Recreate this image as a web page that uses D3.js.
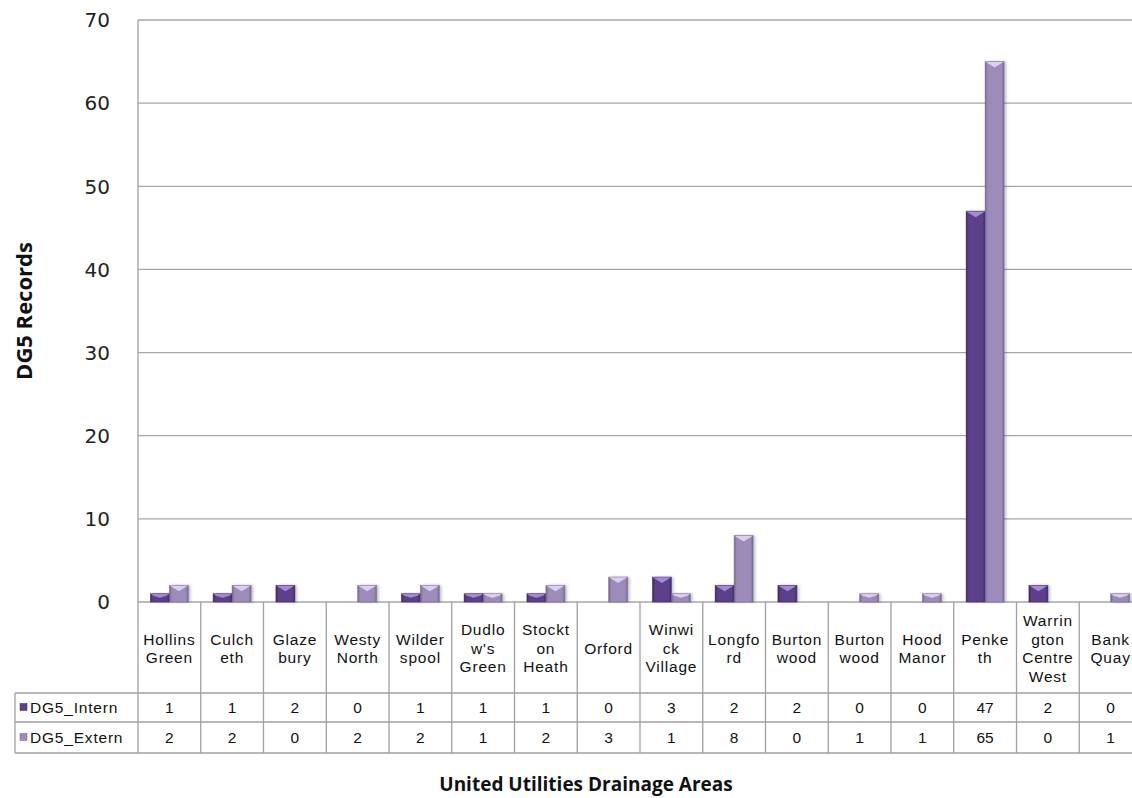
<!DOCTYPE html>
<html>
<head>
<meta charset="utf-8">
<script src="https://cdn.jsdelivr.net/npm/d3@7"></script>
<style>
  html, body { margin: 0; padding: 0; background: #fff; }
  svg { display: block; }
</style>
</head>
<body>
<svg id="chart" width="1132" height="798"></svg>
<script>
// Drainage areas (header rows of the data table, one array per wrapped line set)
const categories = [
  ["Hollins", "Green"], ["Culch", "eth"], ["Glaze", "bury"], ["Westy", "North"],
  ["Wilder", "spool"], ["Dudlo", "w's", "Green"], ["Stockt", "on", "Heath"], ["Orford"],
  ["Winwi", "ck", "Village"], ["Longfo", "rd"], ["Burton", "wood"], ["Burton", "wood"],
  ["Hood", "Manor"], ["Penke", "th"], ["Warrin", "gton", "Centre", "West"], ["Bank", "Quay"]
];
const internValues = [1, 1, 2, 0, 1, 1, 1, 0, 3, 2, 2, 0, 0, 47, 2, 0];
const externValues = [2, 2, 0, 2, 2, 1, 2, 3, 1, 8, 0, 1, 1, 65, 0, 1];
const seriesNames = ["DG5_Intern", "DG5_Extern"];
const yTicks = [0, 10, 20, 30, 40, 50, 60, 70];

const series = [
  { name: seriesNames[0], values: internValues, body: "#5d4189", edge: "#3c2862", cap: "#a58ad8", key: "intern" },
  { name: seriesNames[1], values: externValues, body: "#9d8cba", edge: "#75668f", cap: "#dccdf3", key: "extern" }
];

const svg = d3.select("#chart");
const plotLeft = 138, plotTop = 20, plotBottom = 602;
const bandW = 62.75;
const plotRight = plotLeft + bandW * categories.length;

const x = d3.scaleBand().domain(d3.range(categories.length)).range([plotLeft, plotRight]).paddingInner(0).paddingOuter(0);
const y = d3.scaleLinear().domain([0, 70]).range([plotBottom, plotTop]);

// Gradients giving bars their bevelled look
const defs = svg.append("defs");
series.forEach(s => {
  const g = defs.append("linearGradient").attr("id", "grad-" + s.key)
    .attr("x1", "0%").attr("x2", "100%").attr("y1", "0%").attr("y2", "0%");
  g.append("stop").attr("offset", "0%").attr("stop-color", s.edge);
  g.append("stop").attr("offset", "14%").attr("stop-color", s.body);
  g.append("stop").attr("offset", "86%").attr("stop-color", s.body);
  g.append("stop").attr("offset", "100%").attr("stop-color", s.edge);
});
const shadow = defs.append("filter").attr("id", "shadow").attr("x", "-30%").attr("y", "-10%").attr("width", "160%").attr("height", "130%");
shadow.append("feDropShadow").attr("dx", 2).attr("dy", 0).attr("stdDeviation", 1.5).attr("flood-color", "#000").attr("flood-opacity", 0.25);

// Gridlines
svg.append("g").selectAll("line").data(yTicks).join("line")
  .attr("x1", plotLeft).attr("x2", 1132)
  .attr("y1", d => y(d)).attr("y2", d => y(d))
  .attr("stroke", "#a6a6a6").attr("stroke-width", 1.3);

// Y axis labels
const yAxis = d3.axisLeft(y).tickValues(yTicks).tickSize(0).tickPadding(28);
const yg = svg.append("g").attr("transform", `translate(${plotLeft},0)`).call(yAxis);
yg.select(".domain").remove();
yg.selectAll("text").attr("font-family", "DejaVu Sans, sans-serif").attr("font-size", 20).attr("fill", "#222").attr("dy", "0.34em");

// Bars
const barW = 19;
const barsG = svg.append("g");
series.forEach((s, si) => {
  const g = barsG.append("g");
  s.values.forEach((v, i) => {
    if (v <= 0) return;
    const bx = x(i) + x.bandwidth() / 2 - barW + si * barW;
    const by = y(v), bh = y(0) - y(v);
    g.append("rect").attr("x", bx).attr("y", by).attr("width", barW).attr("height", bh)
      .attr("fill", `url(#grad-${s.key})`).attr("filter", "url(#shadow)");
    // top bevel: light cap with downward-pointing facet
    const capH = Math.min(6, bh * 0.5);
    g.append("path")
      .attr("d", `M${bx},${by} L${bx + barW},${by} L${bx + barW - 3},${by + 2} L${bx + barW / 2},${by + capH} L${bx + 3},${by + 2} Z`)
      .attr("fill", s.cap);
    g.append("rect").attr("x", bx).attr("y", by).attr("width", barW).attr("height", bh)
      .attr("fill", "none").attr("stroke", s.edge).attr("stroke-opacity", 0.6).attr("stroke-width", 0.8);
  });
});

// Data table
const tableStroke = "#a0a0a0";
const hdrBottom = 693, row1Bottom = 722, row2Bottom = 753, legendLeft = 15;
const tbl = svg.append("g");
// vertical separators
const bounds = d3.range(categories.length + 1).map(i => plotLeft + i * bandW);
tbl.selectAll("line.v").data(bounds).join("line")
  .attr("x1", d => d).attr("x2", d => d).attr("y1", d => d === plotLeft ? plotTop : plotBottom).attr("y2", row2Bottom)
  .attr("stroke", tableStroke).attr("stroke-width", 1.3);
[hdrBottom, row1Bottom, row2Bottom].forEach(yy => {
  tbl.append("line").attr("x1", legendLeft).attr("x2", 1132).attr("y1", yy).attr("y2", yy)
    .attr("stroke", tableStroke).attr("stroke-width", 1.3);
});
tbl.append("line").attr("x1", legendLeft).attr("x2", legendLeft).attr("y1", hdrBottom).attr("y2", row2Bottom)
  .attr("stroke", tableStroke).attr("stroke-width", 1.3);

const cellFont = { family: "Liberation Sans, Arial, sans-serif", size: 15.5 };
// header labels
categories.forEach((lines, i) => {
  const cx = x(i) + x.bandwidth() / 2;
  const lh = 18.5;
  const cy = (plotBottom + hdrBottom) / 2 + 1;
  const t = tbl.append("text").attr("text-anchor", "middle")
    .attr("font-family", cellFont.family).attr("font-size", cellFont.size)
    .attr("letter-spacing", 0.8).attr("fill", "#111");
  lines.forEach((ln, k) => {
    t.append("tspan").attr("x", cx).attr("y", cy + (k - (lines.length - 1) / 2) * lh).attr("dy", "0.35em").text(ln);
  });
});
// value rows
series.forEach((s, si) => {
  const rowTop = si === 0 ? hdrBottom : row1Bottom;
  const rowBot = si === 0 ? row1Bottom : row2Bottom;
  const cy = (rowTop + rowBot) / 2;
  tbl.append("rect").attr("x", 20).attr("y", cy - 4).attr("width", 7).attr("height", 7)
    .attr("fill", s.body).attr("stroke", s.edge).attr("stroke-width", 0.5);
  tbl.append("text").attr("x", 30).attr("y", cy).attr("dy", "0.36em")
    .attr("font-family", cellFont.family).attr("font-size", cellFont.size).attr("letter-spacing", 0.8)
    .attr("fill", "#111").text(s.name);
  s.values.forEach((v, i) => {
    tbl.append("text").attr("x", x(i) + x.bandwidth() / 2).attr("y", cy).attr("dy", "0.36em")
      .attr("text-anchor", "middle").attr("font-family", cellFont.family).attr("font-size", cellFont.size)
      .attr("fill", "#111").text(v);
  });
});

// Axis titles
svg.append("text").attr("transform", "translate(32,311) rotate(-90)").attr("text-anchor", "middle")
  .attr("font-family", "Open Sans, sans-serif").attr("font-weight", "bold").attr("font-size", 22).attr("fill", "#111")
  .text("DG5 Records");
svg.append("text").attr("x", 586).attr("y", 791).attr("text-anchor", "middle")
  .attr("font-family", "Open Sans, sans-serif").attr("font-weight", "bold").attr("font-size", 19).attr("fill", "#111")
  .text("United Utilities Drainage Areas");
</script>
</body>
</html>
